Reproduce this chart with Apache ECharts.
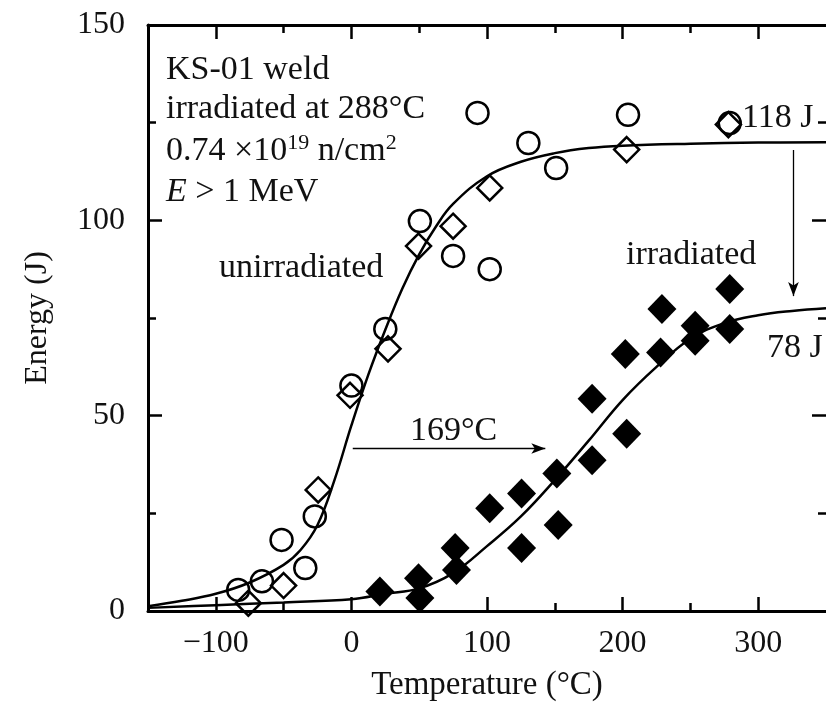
<!DOCTYPE html>
<html>
<head>
<meta charset="utf-8">
<title>KS-01 weld Charpy curves</title>
<script src="https://cdn.jsdelivr.net/npm/echarts@6/dist/echarts.min.js"></script>
<style>
html, body { margin: 0; padding: 0; background: #fff; }
#main { width: 826px; height: 707px; }
</style>
</head>
<body>
<div id="main"></div>
<script>
// tick positions
var xMajor = [-100, 0, 100, 200, 300];
var xMinor = [-50, 50, 150, 250];

// unirradiated, open circles [T, E]
var unirrCircles = [
	[-83.5, 5.4], [-66, 7.6], [-51.5, 18.2], [-34, 11], [-27, 24.2],
	[0, 57.7], [25, 72.2], [50.5, 99.8], [75, 90.9], [102, 87.5],
	[93, 127.5], [130.5, 119.8], [151, 113.4], [204, 127], [279, 124.9]
];
// unirradiated, open diamonds
var unirrDiamonds = [
	[-76, 2], [-50, 6.5], [-24.5, 31], [-1, 55.2], [27, 67.1],
	[49.5, 93.4], [75, 98.5], [102, 108.3], [203, 118.1], [278, 124.5]
];
// irradiated, filled diamonds
var irrDiamonds = [
	[21, 5], [49.5, 8.4], [50.5, 3.3], [76.5, 16.1], [77.5, 10.5],
	[102, 26.3], [125.5, 30.1], [125.5, 16.1], [151.5, 35.2], [152.5, 22],
	[177.5, 54.3], [177.5, 38.6], [202, 65.8], [203, 45.4], [229, 77.3],
	[228, 66.2], [253.5, 73], [253.5, 69.2], [279, 82.4], [279, 72.2]
];

// fitted curves
var unirrFit = [
	[-150, 1.2], [-125, 2.6], [-100, 4.4], [-75, 7.3], [-50, 11.8],
	[-37.5, 15.6], [-25, 22], [-12.5, 33.5], [0, 47.5], [12.5, 60.5],
	[25, 72], [37.5, 82.5], [50, 91.3], [62.5, 98.5], [75, 104.2],
	[100, 111.3], [125, 115], [150, 117.2], [175, 118.5], [200, 119.1],
	[250, 119.6], [300, 119.9], [350, 120]
];
var irrFit = [
	[-150, 0.8], [-100, 1.5], [-50, 2.2], [0, 3], [25, 4.4],
	[50, 5.8], [75, 9.7], [100, 16.6], [125, 24.2], [150, 33.5],
	[175, 43.6], [200, 54], [225, 62.5], [250, 69.7], [275, 73.7],
	[300, 75.7], [325, 76.8], [350, 77.5]
];

// arrows: 169°C shift and 118 J -> 78 J drop
var shiftArrow = [[1, 41.6], [143, 41.6]];
var dropArrow = [[326, 118], [326, 80.6]];

var FONT = "Liberation Serif";
var INK = "#111";

var fmtX = function(v){
	return v < 0 ? "\u2212" + Math.abs(v) : "" + v;
};

var xAxisBase = function(pos, ticks, len, main){
	return {
		type: "value",
		position: pos,
		min: -150,
		max: 350,
		axisLine: { show: main, onZero: false, lineStyle: { color: "#000", width: 3 } },
		axisTick: { inside: true, length: len, customValues: ticks, lineStyle: { color: "#000", width: 2.5 } },
		axisLabel: {
			show: main && pos == "bottom",
			customValues: ticks,
			formatter: fmtX,
			fontFamily: FONT, fontSize: 32, color: INK, margin: 17
		},
		splitLine: { show: false }
	};
};

var yAxisBase = function(pos, main){
	return {
		type: "value",
		position: pos,
		min: 0,
		max: 150,
		interval: 50,
		axisLine: { show: main, onZero: false, lineStyle: { color: "#000", width: 3 } },
		axisTick: { inside: true, length: 14, lineStyle: { color: "#000", width: 2.5 } },
		minorTick: { show: true, splitNumber: 2, length: 8, lineStyle: { color: "#000", width: 2.5 } },
		axisLabel: { show: pos == "left", fontFamily: FONT, fontSize: 32, color: INK, margin: 23 },
		splitLine: { show: false },
		minorSplitLine: { show: false }
	};
};

var xs = [
	xAxisBase("bottom", xMajor, 14, true),
	xAxisBase("bottom", xMinor, 8, false),
	xAxisBase("top", xMajor, 14, true),
	xAxisBase("top", xMinor, 8, false)
];
xs[0].name = "Temperature (\u00B0C)";
xs[0].nameLocation = "middle";
xs[0].nameGap = 58;
xs[0].nameTextStyle = { fontFamily: FONT, fontSize: 33, color: INK };

var ys = [yAxisBase("left", true), yAxisBase("right", false)];
ys[0].name = "Energy (J)";
ys[0].nameLocation = "middle";
ys[0].nameGap = 94;
ys[0].nameTextStyle = { fontFamily: FONT, fontSize: 32, color: INK };

var arrowLine = function(pts){
	return [{ coord: pts[0] }, { coord: pts[1] }];
};

var txt = function(x, y, text, extra){
	var o = {
		type: "text",
		x: x,
		y: y,
		z: 100,
		style: {
			text: text,
			fontFamily: FONT,
			fontSize: 34,
			fill: INK,
			verticalAlign: "middle"
		}
	};
	if(extra) o.style.rich = extra;
	return o;
};

var chart = echarts.init(document.getElementById("main"));
chart.setOption({
	animation: false,
	backgroundColor: "#fff",
	grid: { left: 148, right: 0, top: 25, bottom: 94 },
	xAxis: xs,
	yAxis: ys,
	series: [
		{
			type: "line",
			data: unirrFit,
			smooth: 0.4,
			showSymbol: false,
			lineStyle: { color: "#000", width: 2.5 },
			z: 3
		},
		{
			type: "line",
			data: irrFit,
			smooth: 0.4,
			showSymbol: false,
			lineStyle: { color: "#000", width: 2.5 },
			z: 3,
			markLine: {
				silent: true,
				symbol: ["none", "arrow"],
				symbolSize: [8, 14],
				label: { show: false },
				lineStyle: { color: "#000", width: 1.3, type: "solid" },
				data: [arrowLine(shiftArrow), arrowLine(dropArrow)]
			}
		},
		{
			type: "scatter",
			data: unirrCircles,
			symbol: "circle",
			symbolSize: 22,
			itemStyle: { color: "rgba(0,0,0,0)", borderColor: "#000", borderWidth: 2.5, opacity: 1 },
			z: 4
		},
		{
			type: "scatter",
			data: unirrDiamonds,
			symbol: "diamond",
			symbolSize: [25, 25],
			itemStyle: { color: "rgba(0,0,0,0)", borderColor: "#000", borderWidth: 2.5, opacity: 1 },
			z: 4
		},
		{
			type: "scatter",
			data: irrDiamonds,
			symbol: "diamond",
			symbolSize: [29, 30],
			itemStyle: { color: "#000", opacity: 1 },
			z: 5
		}
	],
	graphic: [
		txt(166, 70, "KS-01 weld"),
		txt(166, 109, "irradiated at 288\u00B0C"),
		txt(166, 151, "0.74 \u00D710{sup|19} n/cm{sup|2}", {
			sup: { fontFamily: FONT, fontSize: 22, fill: INK, verticalAlign: "top", lineHeight: 38 }
		}),
		txt(166, 192, "{it|E} > 1 MeV", {
			it: { fontFamily: FONT, fontSize: 34, fontStyle: "italic", fill: INK }
		}),
		txt(219, 268, "unirradiated"),
		txt(626, 255, "irradiated"),
		txt(742, 118, "118 J"),
		txt(767, 348, "78 J"),
		txt(410, 431, "169\u00B0C")
	]
});
</script>
</body>
</html>
